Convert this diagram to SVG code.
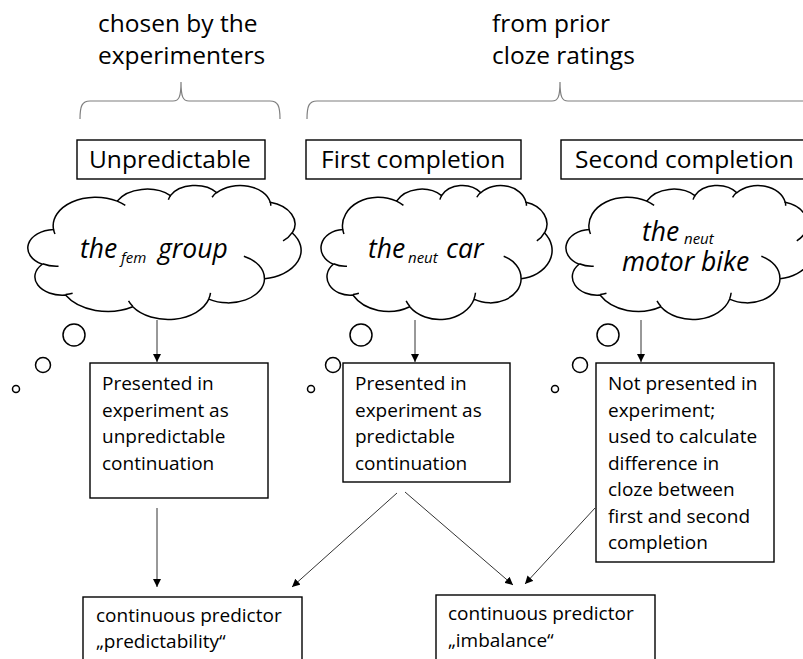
<svg xmlns="http://www.w3.org/2000/svg" width="803" height="659" viewBox="0 0 803 659">
<style>
  .bg{fill:#ffffff}
  .box{fill:#ffffff;stroke:#000000;stroke-width:1.4}
  .cloud{fill:#ffffff;stroke:#000000;stroke-width:1.5;vector-effect:non-scaling-stroke}
  .inner{fill:none;stroke:#000000;stroke-width:1.5;vector-effect:non-scaling-stroke}
  .bubble{fill:#ffffff;stroke:#000000;stroke-width:1.5}
  .brace{fill:none;stroke:#7f7f7f;stroke-width:1.2}
  .conn{fill:none;stroke:#333333;stroke-width:1;marker-end:url(#arrow)}
  .lbl{font-family:"Open Sans","Noto Sans",sans-serif;font-size:24.5px;fill:#000000}
  .body{font-family:"Open Sans","Noto Sans",sans-serif;font-size:19px;fill:#000000}
  .it{font-family:"Open Sans","Noto Sans",sans-serif;font-size:26.5px;font-style:italic;fill:#000000}
  .sub{font-size:15px}
</style>
<defs>
  <marker id="arrow" viewBox="0 0 10 10" refX="10" refY="5" markerUnits="userSpaceOnUse" markerWidth="8" markerHeight="8" orient="auto">
    <path d="M0,0 L10,5 L0,10 Z" fill="#000000"/>
  </marker>
</defs>
<rect class="bg" x="0" y="0" width="803" height="659"/>

<g id="header-experimenters">
  <text class="lbl" x="98" y="32">chosen by the</text>
  <text class="lbl" x="98" y="64">experimenters</text>
  <path class="brace" d="M80,119 C80,106 82,101 90,101 L173,101 C179,101 181,97 181,82 C181,97 183,101 189,101 L270,101 C278,101 280,106 280,119"/>
</g>
<g id="header-cloze">
  <text class="lbl" x="492" y="32">from prior</text>
  <text class="lbl" x="492" y="64">cloze ratings</text>
  <path class="brace" d="M307,119 C307,106 309,101 317,101 L552,101 C558,101 560,97 560,82 C560,97 562,101 568,101 L803,101 C811,101 813,106 813,119"/>
</g>

<g id="label-unpredictable">
  <rect class="box" x="77" y="140" width="188" height="39"/>
  <text class="lbl" x="89" y="168">Unpredictable</text>
</g>
<g id="label-first">
  <rect class="box" x="306" y="140" width="215" height="39"/>
  <text class="lbl" x="321" y="168">First completion</text>
</g>
<g id="label-second">
  <rect class="box" x="561" y="140" width="250" height="39"/>
  <text class="lbl" x="575" y="168">Second completion</text>
</g>

<g id="cloud-group">
  <path class="cloud" d="M9.03,33.26 A15.63 21.27 0 0 1 32.42,12.04 A12.34 16.82 0 0 1 51.98,7.94 A10.10 13.76 0 0 1 69.06,5.74 A11.24 15.27 0 0 1 88.69,12.91 A12.34 16.84 0 0 1 96.80,35.79 A15.68 21.34 0 0 1 86.58,69.91 A13.39 18.21 0 0 1 66.10,85.21 A15.63 21.33 0 0 1 38.15,90.89 A17.87 24.41 0 0 1 13.43,82.11 A10.09 13.70 0 0 1 4.89,59.14 A10.06 13.76 0 0 1 9.03,33.26 Z" transform="translate(29,185) scale(2.72,1.34)"/>
  <path class="inner" d="M10.86,60.60 A10.06 13.76 0 0 1 5.00,58.75 M16.04,80.78 A10.09 13.70 0 0 1 13.47,81.67 M38.14,90.49 A15.63 21.33 0 0 1 36.59,86.45 M66.73,80.44 A15.63 21.33 0 0 1 66.11,84.86 M79.00,53.13 A13.39 18.21 0 0 1 86.53,69.65 M96.75,35.54 A12.34 16.84 0 0 1 93.40,41.74 M88.71,12.56 A11.24 15.27 0 0 1 88.89,15.49 M67.31,9.15 A11.24 15.27 0 0 1 69.03,5.41 M51.25,10.93 A10.10 13.76 0 0 1 52.08,7.71 M32.41,12.02 A15.63 21.27 0 0 1 35.41,15.14 M9.55,36.55 A15.63 21.27 0 0 1 9.03,33.27" transform="translate(29,185) scale(2.72,1.34)"/>
  <circle class="bubble" cx="74" cy="335" r="11"/>
  <circle class="bubble" cx="43" cy="365" r="7.5"/>
  <circle class="bubble" cx="16" cy="389" r="3.5"/>
  <text class="it" y="258"><tspan x="80">the</tspan><tspan class="sub" x="121" y="263">fem</tspan><tspan x="158" y="258">group</tspan></text>
</g>

<g id="cloud-car">
  <path class="cloud" d="M9.03,33.26 A15.63 21.27 0 0 1 32.42,12.04 A12.34 16.82 0 0 1 51.98,7.94 A10.10 13.76 0 0 1 69.06,5.74 A11.24 15.27 0 0 1 88.69,12.91 A12.34 16.84 0 0 1 96.80,35.79 A15.68 21.34 0 0 1 86.58,69.91 A13.39 18.21 0 0 1 66.10,85.21 A15.63 21.33 0 0 1 38.15,90.89 A17.87 24.41 0 0 1 13.43,82.11 A10.09 13.70 0 0 1 4.89,59.14 A10.06 13.76 0 0 1 9.03,33.26 Z" transform="translate(322,185) scale(2.30,1.34)"/>
  <path class="inner" d="M10.86,60.60 A10.06 13.76 0 0 1 5.00,58.75 M16.04,80.78 A10.09 13.70 0 0 1 13.47,81.67 M38.14,90.49 A15.63 21.33 0 0 1 36.59,86.45 M66.73,80.44 A15.63 21.33 0 0 1 66.11,84.86 M79.00,53.13 A13.39 18.21 0 0 1 86.53,69.65 M96.75,35.54 A12.34 16.84 0 0 1 93.40,41.74 M88.71,12.56 A11.24 15.27 0 0 1 88.89,15.49 M67.31,9.15 A11.24 15.27 0 0 1 69.03,5.41 M51.25,10.93 A10.10 13.76 0 0 1 52.08,7.71 M32.41,12.02 A15.63 21.27 0 0 1 35.41,15.14 M9.55,36.55 A15.63 21.27 0 0 1 9.03,33.27" transform="translate(322,185) scale(2.30,1.34)"/>
  <circle class="bubble" cx="361" cy="335" r="11"/>
  <circle class="bubble" cx="333" cy="365" r="7.5"/>
  <circle class="bubble" cx="311" cy="389" r="3.5"/>
  <text class="it" y="258"><tspan x="368">the</tspan><tspan class="sub" x="408" y="263">neut</tspan><tspan x="446" y="258">car</tspan></text>
</g>

<g id="cloud-motorbike">
  <path class="cloud" d="M9.03,33.26 A15.63 21.27 0 0 1 32.42,12.04 A12.34 16.82 0 0 1 51.98,7.94 A10.10 13.76 0 0 1 69.06,5.74 A11.24 15.27 0 0 1 88.69,12.91 A12.34 16.84 0 0 1 96.80,35.79 A15.68 21.34 0 0 1 86.58,69.91 A13.39 18.21 0 0 1 66.10,85.21 A15.63 21.33 0 0 1 38.15,90.89 A17.87 24.41 0 0 1 13.43,82.11 A10.09 13.70 0 0 1 4.89,59.14 A10.06 13.76 0 0 1 9.03,33.26 Z" transform="translate(567,185) scale(2.46,1.34)"/>
  <path class="inner" d="M10.86,60.60 A10.06 13.76 0 0 1 5.00,58.75 M16.04,80.78 A10.09 13.70 0 0 1 13.47,81.67 M38.14,90.49 A15.63 21.33 0 0 1 36.59,86.45 M66.73,80.44 A15.63 21.33 0 0 1 66.11,84.86 M79.00,53.13 A13.39 18.21 0 0 1 86.53,69.65 M96.75,35.54 A12.34 16.84 0 0 1 93.40,41.74 M88.71,12.56 A11.24 15.27 0 0 1 88.89,15.49 M67.31,9.15 A11.24 15.27 0 0 1 69.03,5.41 M51.25,10.93 A10.10 13.76 0 0 1 52.08,7.71 M32.41,12.02 A15.63 21.27 0 0 1 35.41,15.14 M9.55,36.55 A15.63 21.27 0 0 1 9.03,33.27" transform="translate(567,185) scale(2.46,1.34)"/>
  <circle class="bubble" cx="608" cy="335" r="11"/>
  <circle class="bubble" cx="580" cy="365" r="7.5"/>
  <circle class="bubble" cx="555" cy="389" r="3.5"/>
  <text class="it"><tspan x="642" y="241">the</tspan><tspan class="sub" x="684" y="244">neut</tspan></text>
  <text class="it" x="622" y="271">motor bike</text>
</g>

<g id="box-unpredictable">
  <rect class="box" x="90" y="363" width="178" height="135"/>
  <text class="body"><tspan x="102" y="390">Presented in</tspan><tspan x="102" y="416.5">experiment as</tspan><tspan x="102" y="443">unpredictable</tspan><tspan x="102" y="469.5">continuation</tspan></text>
</g>
<g id="box-predictable">
  <rect class="box" x="343" y="363" width="167" height="119"/>
  <text class="body"><tspan x="355" y="390">Presented in</tspan><tspan x="355" y="416.5">experiment as</tspan><tspan x="355" y="443">predictable</tspan><tspan x="355" y="469.5">continuation</tspan></text>
</g>
<g id="box-notpresented">
  <rect class="box" x="596" y="363" width="178" height="199"/>
  <text class="body"><tspan x="608" y="390">Not presented in</tspan><tspan x="608" y="416.5">experiment;</tspan><tspan x="608" y="443">used to calculate</tspan><tspan x="608" y="469.5">difference in</tspan><tspan x="608" y="496">cloze between</tspan><tspan x="608" y="522.5">first and second</tspan><tspan x="608" y="549">completion</tspan></text>
</g>
<g id="box-predictability">
  <rect class="box" x="83" y="597" width="219" height="75"/>
  <text class="body"><tspan x="96" y="622">continuous predictor</tspan><tspan x="96" y="648">„predictability“</tspan></text>
</g>
<g id="box-imbalance">
  <rect class="box" x="436" y="595" width="219" height="75"/>
  <text class="body"><tspan x="448" y="620">continuous predictor</tspan><tspan x="448" y="647">„imbalance“</tspan></text>
</g>

<g id="connectors">
  <line class="conn" x1="157" y1="320" x2="157" y2="362"/>
  <line class="conn" x1="415" y1="320" x2="415" y2="362"/>
  <line class="conn" x1="641" y1="320" x2="641" y2="362"/>
  <line class="conn" x1="157" y1="508" x2="157" y2="587"/>
  <line class="conn" x1="397" y1="493" x2="292" y2="587"/>
  <line class="conn" x1="405" y1="492" x2="513" y2="585"/>
  <line class="conn" x1="595" y1="508" x2="525" y2="584"/>
</g>
</svg>
